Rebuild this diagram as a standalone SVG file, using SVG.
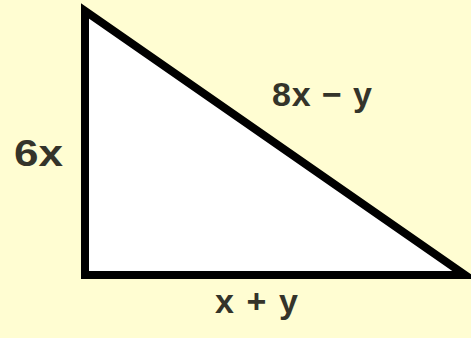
<svg xmlns="http://www.w3.org/2000/svg" width="471" height="338" viewBox="0 0 471 338">
<style>
.lbl{font-family:"Liberation Sans",Arial,sans-serif;font-weight:bold;font-size:34px;fill:#34342a}
</style>
<rect x="0" y="0" width="471" height="338" fill="#fffdd2"/>
<g id="triangle">
<polygon points="85,11 85,275 465,275" fill="#ffffff" stroke="#000000" stroke-width="8" stroke-linejoin="miter" stroke-miterlimit="10"/>
</g>
<g id="labels">
<text class="lbl" x="14" y="166" style="font-size:37px" textLength="49" lengthAdjust="spacingAndGlyphs">6x</text>
<text class="lbl" x="272" y="106" textLength="100" lengthAdjust="spacing">8x − y</text>
<text class="lbl" x="215" y="313" textLength="83" lengthAdjust="spacing">x+y</text>
</g>
</svg>
